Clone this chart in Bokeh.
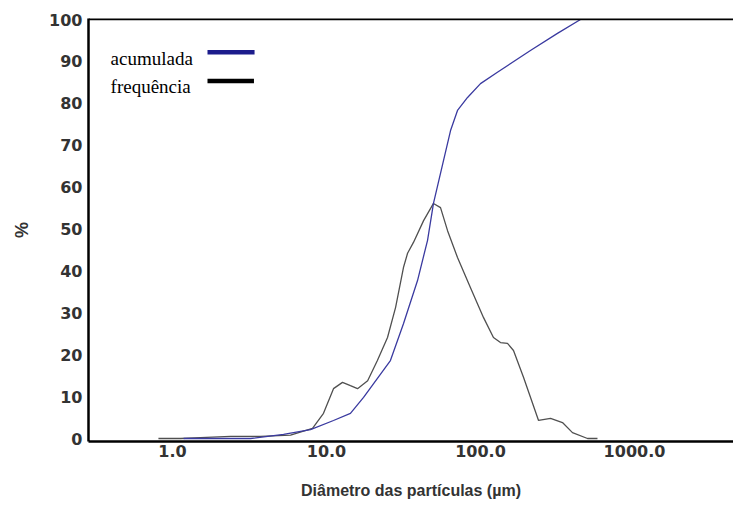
from bokeh.plotting import figure
from bokeh.models import FixedTicker, Span, Range1d
from bokeh.core.properties import value
from bokeh.embed import file_html
from bokeh.resources import INLINE

# ---- data ----
freq_x = [0.81, 1.13, 1.52, 2.38, 3.73, 5.84, 8.11, 9.56, 11.1, 12.7, 14.3, 15.9,
          18.5, 21.4, 24.9, 28.1, 31.6, 33.6, 36.7, 42.7, 49.5, 55.0, 61.1, 70.9,
          86.1, 104.5, 121.4, 134.8, 149.7, 163.8, 190.2, 238.2, 285.1, 340.7,
          395.6, 495.5, 575.0]
freq_y = [0.0, 0.0, 0.2, 0.5, 0.5, 0.8, 2.4, 6.0, 11.9, 13.4, 12.6, 11.9,
          13.8, 18.6, 24.1, 31.3, 40.8, 44.2, 46.8, 52.0, 56.1, 55.1, 49.6, 43.2,
          36.0, 28.9, 24.1, 22.9, 22.7, 21.0, 14.6, 4.3, 4.8, 3.8,
          1.4, 0.0, 0.0]

cum_x = [1.18, 2.05, 3.21, 5.26, 7.87, 11.1, 14.3, 17.4, 26.0, 31.6, 39.0, 45.3,
         49.5, 57.5, 63.9, 70.9, 82.4, 100.0, 128.8, 211.0, 316.0, 446.0]
cum_y = [0.0, 0.0, 0.0, 1.0, 2.1, 4.3, 6.0, 9.8, 18.6, 27.4, 37.7, 47.3,
         56.1, 66.3, 73.5, 78.3, 81.4, 84.7, 87.4, 92.6, 96.7, 100.0]

x_ticks = [1, 10, 100, 1000]
x_tick_labels = ["1.0", "10.0", "100.0", "1000.0"]
y_ticks = [0, 10, 20, 30, 40, 50, 60, 70, 80, 90, 100]
legend_labels = ["acumulada", "frequência"]
x_title = "Diâmetro das partículas (µm)"
y_title = "%"

CUM_COLOR = "#3a3aa0"
FREQ_COLOR = "#505050"

p = figure(width=733, height=506, x_axis_type="log",
           x_range=Range1d(0.2847, 4395), y_range=Range1d(-0.716, 100.24),
           output_backend="svg", toolbar_location=None,
           min_border_left=88, min_border_right=0, min_border_top=18,
           min_border_bottom=65)
p.outline_line_color = None
p.xgrid.visible = False
p.ygrid.visible = False
p.background_fill_color = "white"
p.border_fill_color = "white"

p.line(freq_x, freq_y, line_color=FREQ_COLOR, line_width=1.3)
p.line(cum_x, cum_y, line_color=CUM_COLOR, line_width=1.3)

# top frame line
p.add_layout(Span(location=100.1, dimension="width", line_color="black", line_width=2.5))

# axes
for ax in (p.xaxis[0], p.yaxis[0]):
    ax.axis_line_color = "black"
    ax.axis_line_width = 2.5
    ax.major_tick_out = 0
    ax.major_tick_in = 0
    ax.minor_tick_out = 0
    ax.minor_tick_in = 0
    ax.major_label_text_font = "DejaVu Sans"
    ax.major_label_text_font_style = "bold"
    ax.major_label_text_font_size = "16px"
    ax.major_label_text_color = "#333333"
    ax.axis_label_text_font = "Liberation Sans"
    ax.axis_label_text_font_style = "bold"
    ax.axis_label_text_color = "#333333"

p.xaxis.ticker = FixedTicker(ticks=x_ticks)
p.xaxis.major_label_overrides = {t: l for t, l in zip(x_ticks, x_tick_labels)}
p.xaxis.major_label_standoff = 3
p.xaxis.axis_label = x_title
p.xaxis.axis_label_text_font_size = "16px"
p.xaxis.axis_label_standoff = 22

p.yaxis.ticker = FixedTicker(ticks=y_ticks)
p.yaxis.major_label_standoff = 6
p.yaxis.axis_label = y_title
p.yaxis.axis_label_text_font_size = "18px"
p.yaxis.axis_label_standoff = 14

# legend (labels left, swatches right, as in the reference)
p.text(x=[0.396, 0.396], y=[90.7, 84.0], text=legend_labels,
       text_font=value("Liberation Serif"), text_font_size="19px",
       text_color="black", text_baseline="alphabetic", text_align="left")
p.segment(x0=[1.687, 1.687], y0=[92.2, 85.3], x1=[3.41, 3.38], y1=[92.2, 85.3],
          line_color=["#1c1c8c", "black"], line_width=4.5)

open("out.html", "w").write(file_html(p, INLINE))
